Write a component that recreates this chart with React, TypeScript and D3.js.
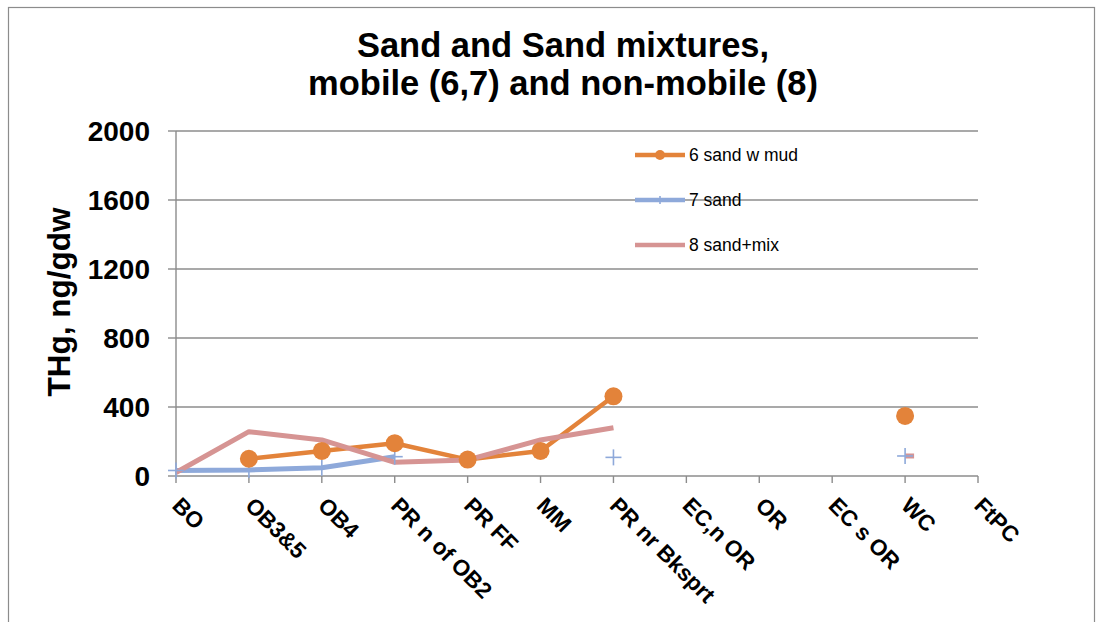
import React from "react";
import * as d3 from "d3";

const categories = ["BO", "OB3&5", "OB4", "PR n of OB2", "PR FF", "MM", "PR nr Bksprt", "EC,n OR", "OR", "EC s OR", "WC", "FtPC"];
const sandWithMud: (number | null)[] = [null, 100, 145, 190, 95, 145, 462, null, null, null, 348, null];
const sand: (number | null)[] = [32, 35, 48, 112, null, null, 108, null, null, null, 116, null];
const sandMix: (number | null)[] = [20, 257, 209, 79, 93, 209, 280, null, null, null, 116, null];
const yTicks = [0, 400, 800, 1200, 1600, 2000];
const titleLines = ["Sand and Sand mixtures,", "mobile (6,7) and non-mobile (8)"];
const legendLabels = ["6 sand w mud", "7 sand", "8 sand+mix"];

const W = 1103, H = 622;
const ORANGE = "#E3833A";
const BLUE = "#8EA9DA";
const PINK = "#D69493";
const GRID = "#8C8C8C";

export default function App() {
  const x = d3.scalePoint<string>().domain(categories).range([176, 978]).padding(0);
  const y = d3.scaleLinear().domain([0, 2000]).range([476, 131]);

  const mkLine = (vals: (number | null)[]) =>
    d3.line<number | null>()
      .defined((d) => d !== null)
      .x((_, i) => x(categories[i]) as number)
      .y((d) => y(d as number))(vals) || "";

  const isolated = (vals: (number | null)[]) =>
    vals.map((v, i) => ({ v, i })).filter(({ v, i }) => v !== null && (i === 0 || vals[i - 1] === null) && (i === vals.length - 1 || vals[i + 1] === null));

  const font = "'Liberation Sans', Arial, sans-serif";
  const plus = (cx: number, cy: number, s: number, key: string) => (
    <g key={key} stroke={BLUE} strokeWidth={1.6}>
      <line x1={cx - s} x2={cx + s} y1={cy} y2={cy} />
      <line x1={cx} x2={cx} y1={cy - s} y2={cy + s} />
    </g>
  );

  const legendY = [155, 200, 245];

  return (
    <svg width={W} height={H} style={{ position: "absolute", left: 0, top: 0, background: "#fff" }} fontFamily={font}>
      <rect x={8.5} y={7.5} width={1086} height={700} fill="#fff" stroke="#8C8C8C" strokeWidth={1.2} />
      {titleLines.map((t, i) => (
        <text key={t} x={563} y={57 + i * 38} textAnchor="middle" fontSize={34.5} fontWeight="bold" fill="#000">{t}</text>
      ))}
      {/* gridlines */}
      {yTicks.map((t) => (
        <g key={t}>
          {t > 0 && <line x1={176} x2={978} y1={y(t)} y2={y(t)} stroke={GRID} strokeWidth={1.4} />}
          <line x1={168} x2={176} y1={y(t)} y2={y(t)} stroke={GRID} strokeWidth={1.4} />
          <text x={150} y={y(t)} dy="0.35em" textAnchor="end" fontSize={28} fontWeight="bold" fill="#000">{t}</text>
        </g>
      ))}
      <line x1={176} x2={176} y1={y(2000)} y2={y(0)} stroke={GRID} strokeWidth={1.4} />
      <line x1={176} x2={978} y1={y(0)} y2={y(0)} stroke={GRID} strokeWidth={1.4} />
      {categories.map((c) => (
        <g key={c}>
          <line x1={x(c)} x2={x(c)} y1={y(0)} y2={y(0) + 7} stroke={GRID} strokeWidth={1.4} />
          <text transform={`translate(${(x(c) as number) - 5},${y(0) + 31}) rotate(45)`} fontSize={22.5} fontWeight="bold" fill="#000">{c}</text>
        </g>
      ))}
      <text transform={`translate(70,302) rotate(-90)`} textAnchor="middle" fontSize={31.5} fontWeight="bold" fill="#000">THg, ng/gdw</text>

      {/* series lines */}
      <path d={mkLine(sandWithMud)} fill="none" stroke={ORANGE} strokeWidth={4.5} strokeLinejoin="round" />
      <path d={mkLine(sand)} fill="none" stroke={BLUE} strokeWidth={5} strokeLinejoin="round" />
      <path d={mkLine(sandMix)} fill="none" stroke={PINK} strokeWidth={5} strokeLinejoin="round" />
      {isolated(sandMix).map(({ v, i }) => (
        <line key={"pm" + i} x1={x(categories[i]) as number} x2={(x(categories[i]) as number) + 9} y1={y(v as number)} y2={y(v as number)} stroke={PINK} strokeWidth={5} />
      ))}
      {/* markers */}
      {sand.map((v, i) => v === null ? null : plus(x(categories[i]) as number, y(v), 8, "p" + i))}
      {sandWithMud.map((v, i) => v === null ? null : (
        <circle key={"c" + i} cx={x(categories[i]) as number} cy={y(v)} r={9} fill={ORANGE} />
      ))}

      {/* legend */}
      {legendLabels.map((l, i) => (
        <g key={l}>
          <line x1={635} x2={685} y1={legendY[i]} y2={legendY[i]} stroke={[ORANGE, BLUE, PINK][i]} strokeWidth={4.5} />
          {i === 0 && <circle cx={660} cy={legendY[i]} r={5} fill={ORANGE} />}
          {i === 1 && plus(660, legendY[i], 4, "lp")}
          <text x={689} y={legendY[i]} dy="0.35em" fontSize={17.5} fill="#000">{l}</text>
        </g>
      ))}
    </svg>
  );
}
